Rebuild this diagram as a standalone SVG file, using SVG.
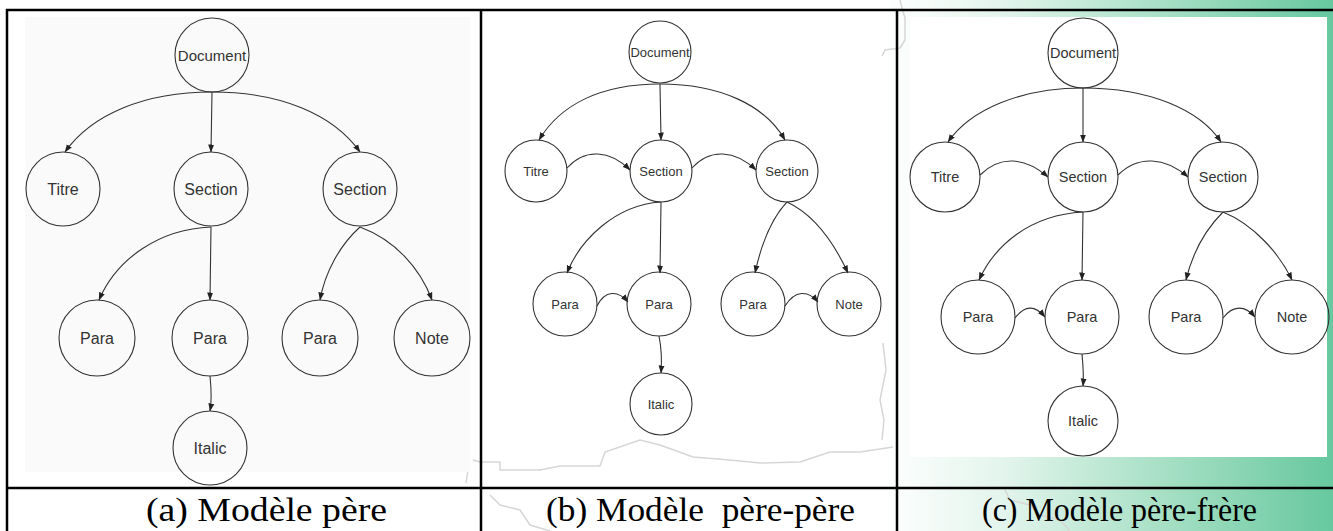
<svg xmlns="http://www.w3.org/2000/svg" width="1333" height="531" viewBox="0 0 1333 531">
  <defs>
    <linearGradient id="bg" gradientUnits="userSpaceOnUse" x1="0" y1="0" x2="1333" y2="0">
      <stop offset="0" stop-color="#ffffff"/>
      <stop offset="0.66" stop-color="#ffffff"/>
      <stop offset="0.75" stop-color="#e4f5ed"/>
      <stop offset="0.86" stop-color="#ade2c9"/>
      <stop offset="1" stop-color="#67c89f"/>
    </linearGradient>
    <marker id="arr" markerUnits="userSpaceOnUse" markerWidth="8" markerHeight="7" refX="7.5" refY="3.5" orient="auto">
      <path d="M0,0.5 L8,3.5 L0,6.5 z" fill="#222"/>
    </marker>
    <style>
      .n circle { fill: none; stroke: #333; stroke-width: 1.1; }
      .n text { font-family: "Liberation Sans", Arial, sans-serif; fill: #333; text-anchor: middle; dominant-baseline: central; }
      #panelA .n text { font-size: 16px; }
      #panelB .n text { font-size: 13px; }
      #panelC .n text { font-size: 14.5px; }
      .e path { fill: none; stroke: #333; stroke-width: 1.1; marker-end: url(#arr); }
      .cap { font-family: "Liberation Serif", "Times New Roman", serif; font-size: 33px; fill: #000; }
      .rule { stroke: #000; stroke-width: 2.5; }
      .map { fill: none; stroke: #d6d6d6; stroke-width: 1.5; }
    </style>
  </defs>

  <!-- background -->
  <rect x="0" y="0" width="1333" height="531" fill="url(#bg)"/>
  <g id="map">
    <polyline class="map" points="473,460 480,462 500,462 500,470 540,470 560,466 600,466 605,452 640,440 660,445 693,457 730,460 760,463 800,462 830,452 860,452 893,447"/>
    <polyline class="map" points="883,343 886,370 880,400 884,420 882,440"/>
    <polyline class="map" points="470,455 460,455 462,465 468,470 466,483"/>
    <polyline class="map" points="490,495 500,505 520,510 530,525 550,531"/>
    <polyline class="map" points="900,0 902,8 905,18 905,40 900,48 885,50 882,56"/>
    <polyline class="map" points="1005,490 1010,500 1030,505 1040,515 1060,520 1070,531"/>
  </g>
  <rect x="25" y="17" width="445" height="455" fill="#fafafa"/>
  <rect x="910" y="17" width="417" height="440" fill="#ffffff"/>

  <!-- table rules -->
  <g id="table">
    <line class="rule" x1="6" y1="10" x2="1333" y2="10"/>
    <line class="rule" x1="6" y1="488" x2="1333" y2="488"/>
    <line class="rule" x1="7" y1="9" x2="7" y2="531"/>
    <line class="rule" x1="481" y1="9" x2="481" y2="531"/>
    <line class="rule" x1="897" y1="9" x2="897" y2="531"/>
  </g>

  <!-- Panel A -->
  <g id="panelA">
    <g id="a-edges" class="e">
      <path d="M212,92 C145,92 92,114 65,152"/>
      <path d="M212,92 L211,152"/>
      <path d="M212,92 C280,92 333,114 360,152"/>
      <path d="M211,227 C160,229 117,258 99,300"/>
      <path d="M211,227 L210,300"/>
      <path d="M360,227 C340,245 325,272 320,300"/>
      <path d="M360,227 C395,240 420,268 432,300"/>
      <path d="M210,376 C211,386 212,400 210,411"/>
    </g>
    <g id="a-doc" class="n"><circle cx="212" cy="55" r="37"/><text x="212" y="55" style="font-size:15px">Document</text></g>
    <g id="a-titre" class="n"><circle cx="63" cy="189" r="37"/><text x="63" y="189">Titre</text></g>
    <g id="a-sec1" class="n"><circle cx="211" cy="189" r="37"/><text x="211" y="189">Section</text></g>
    <g id="a-sec2" class="n"><circle cx="360" cy="189" r="37"/><text x="360" y="189">Section</text></g>
    <g id="a-para1" class="n"><circle cx="97" cy="338" r="38"/><text x="97" y="338">Para</text></g>
    <g id="a-para2" class="n"><circle cx="210" cy="338" r="38"/><text x="210" y="338">Para</text></g>
    <g id="a-para3" class="n"><circle cx="320" cy="338" r="38"/><text x="320" y="338">Para</text></g>
    <g id="a-note" class="n"><circle cx="432" cy="338" r="38"/><text x="432" y="338">Note</text></g>
    <g id="a-italic" class="n"><circle cx="210" cy="448" r="37"/><text x="210" y="448">Italic</text></g>
  </g>

  <!-- Panel B -->
  <g id="panelB">
    <g id="b-edges" class="e">
      <path d="M660,84 C600,84 560,105 539,140"/>
      <path d="M660,84 L661,140"/>
      <path d="M660,84 C720,84 765,105 785,140"/>
      <path d="M567,168 C585,148 610,150 630,170"/>
      <path d="M692,168 C710,148 735,150 756,170"/>
      <path d="M661,202 C615,205 580,240 567,273"/>
      <path d="M661,202 L660,273"/>
      <path d="M787,202 C770,220 760,250 755,273"/>
      <path d="M787,202 C815,215 835,245 848,273"/>
      <path d="M597,306 C605,290 618,290 628,302"/>
      <path d="M785,306 C795,290 808,290 818,302"/>
      <path d="M659,336 C661,346 662,360 661,373"/>
    </g>
    <g id="b-doc" class="n"><circle cx="660" cy="52" r="31"/><text x="660" y="52">Document</text></g>
    <g id="b-titre" class="n"><circle cx="536" cy="171" r="31"/><text x="536" y="171">Titre</text></g>
    <g id="b-sec1" class="n"><circle cx="661" cy="171" r="31"/><text x="661" y="171">Section</text></g>
    <g id="b-sec2" class="n"><circle cx="787" cy="171" r="31"/><text x="787" y="171">Section</text></g>
    <g id="b-para1" class="n"><circle cx="565" cy="304" r="32"/><text x="565" y="304">Para</text></g>
    <g id="b-para2" class="n"><circle cx="659" cy="304" r="32"/><text x="659" y="304">Para</text></g>
    <g id="b-para3" class="n"><circle cx="753" cy="304" r="32"/><text x="753" y="304">Para</text></g>
    <g id="b-note" class="n"><circle cx="849" cy="304" r="32"/><text x="849" y="304">Note</text></g>
    <g id="b-italic" class="n"><circle cx="661" cy="404" r="31"/><text x="661" y="404">Italic</text></g>
  </g>

  <!-- Panel C -->
  <g id="panelC">
    <g id="c-edges" class="e">
      <path d="M1083,88 C1020,88 970,110 948,142"/>
      <path d="M1083,88 L1083,142"/>
      <path d="M1083,88 C1150,88 1200,110 1221,142"/>
      <path d="M980,175 C1000,155 1025,157 1048,177"/>
      <path d="M1118,175 C1138,155 1165,157 1188,177"/>
      <path d="M1083,212 C1030,215 995,245 979,280"/>
      <path d="M1083,212 L1082,280"/>
      <path d="M1223,212 C1205,230 1192,255 1186,280"/>
      <path d="M1223,212 C1255,225 1280,255 1292,280"/>
      <path d="M1015,318 C1025,305 1035,305 1045,317"/>
      <path d="M1223,318 C1233,305 1245,305 1255,317"/>
      <path d="M1082,354 C1083,365 1084,375 1083,386"/>
    </g>
    <g id="c-doc" class="n"><circle cx="1083" cy="53" r="35"/><text x="1083" y="53">Document</text></g>
    <g id="c-titre" class="n"><circle cx="945" cy="177" r="35"/><text x="945" y="177">Titre</text></g>
    <g id="c-sec1" class="n"><circle cx="1083" cy="177" r="35"/><text x="1083" y="177">Section</text></g>
    <g id="c-sec2" class="n"><circle cx="1223" cy="177" r="35"/><text x="1223" y="177">Section</text></g>
    <g id="c-para1" class="n"><circle cx="978" cy="317" r="37"/><text x="978" y="317">Para</text></g>
    <g id="c-para2" class="n"><circle cx="1082" cy="317" r="37"/><text x="1082" y="317">Para</text></g>
    <g id="c-para3" class="n"><circle cx="1186" cy="317" r="37"/><text x="1186" y="317">Para</text></g>
    <g id="c-note" class="n"><circle cx="1292" cy="317" r="37"/><text x="1292" y="317">Note</text></g>
    <g id="c-italic" class="n"><circle cx="1083" cy="421" r="35"/><text x="1083" y="421">Italic</text></g>
  </g>

  <!-- captions -->
  <g id="captions">
    <text class="cap" x="146" y="521" textLength="241" lengthAdjust="spacingAndGlyphs">(a) Modèle père</text>
    <text class="cap" x="546" y="521" textLength="309" lengthAdjust="spacingAndGlyphs" xml:space="preserve">(b) Modèle  père-père</text>
    <text class="cap" x="982" y="521" textLength="275" lengthAdjust="spacingAndGlyphs">(c) Modèle père-frère</text>
  </g>
</svg>
